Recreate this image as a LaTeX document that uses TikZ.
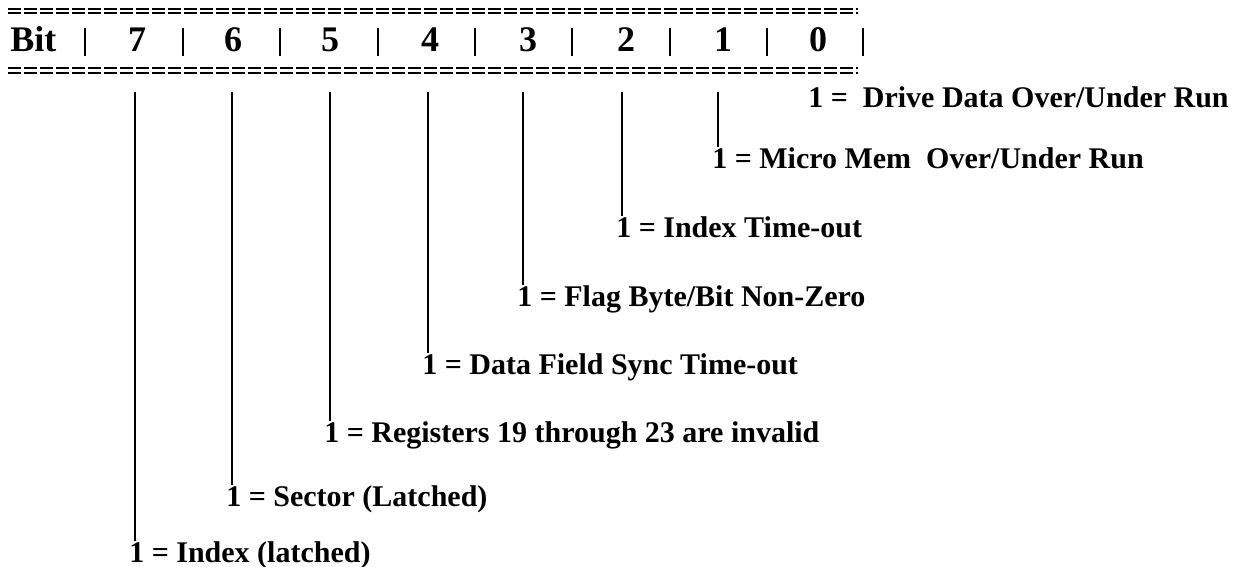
\documentclass[tikz,border=0pt]{standalone}
\usepackage{fontspec}
\setmainfont{Liberation Serif}
\begin{document}
\begin{tikzpicture}[x=0.75pt,y=-0.75pt,
  rule/.style={line width=1.4pt, dash pattern=on 9.75pt off 2.25pt},
  sep/.style={line width=1.9pt},
  lead/.style={line width=1.6pt},
  head/.style={font=\fontsize{27}{30}\selectfont\bfseries, inner sep=0pt, anchor=base},
  desc/.style={font=\fontsize{22.5}{26}\selectfont\bfseries, inner sep=0pt, anchor=base west}]
\useasboundingbox (0,0) rectangle (1240,567);
% double rules above and below the header row
\foreach \y in {9,13,68,73}
  \draw[rule] (8,\y) -- (858,\y);
% header row
\node[head, anchor=base west] (bit) at (10,52) {Bit};
\foreach \x/\n in {137/7,233/6,330/5,430/4,528/3,626/2,723/1,818/0}
  \node[head] (b\n) at (\x,52) {\n};
\foreach \x in {85,183,280,378,475,572,670,767,863}
  \draw[sep] (\x,28) -- (\x,56);
% bit descriptions
\node[desc] (l0) at (808,108) {1 =\ \ Drive Data Over/Under Run};
\node[desc] (l1) at (712,168) {1 = Micro Mem\ \ Over/Under Run};
\node[desc] (l2) at (616,237) {1 = Index Time-out};
\node[desc] (l3) at (517,306) {1 = Flag Byte/Bit Non-Zero};
\node[desc] (l4) at (422,374) {1 = Data Field Sync Time-out};
\node[desc] (l5) at (324,442) {1 = Registers 19 through 23 are invalid};
\node[desc] (l6) at (226,506) {1 = Sector (Latched)};
\node[desc] (l7) at (129,562) {1 = Index (latched)};
% leads from the header down to each description
\foreach \x/\n in {135/7,232/6,330/5,428/4,523/3,622/2,718/1} {
  \coordinate (t\n) at (\x,92);
  \draw[lead] (t\n) -- (t\n |- l\n.north);
}
\end{tikzpicture}
\end{document}
